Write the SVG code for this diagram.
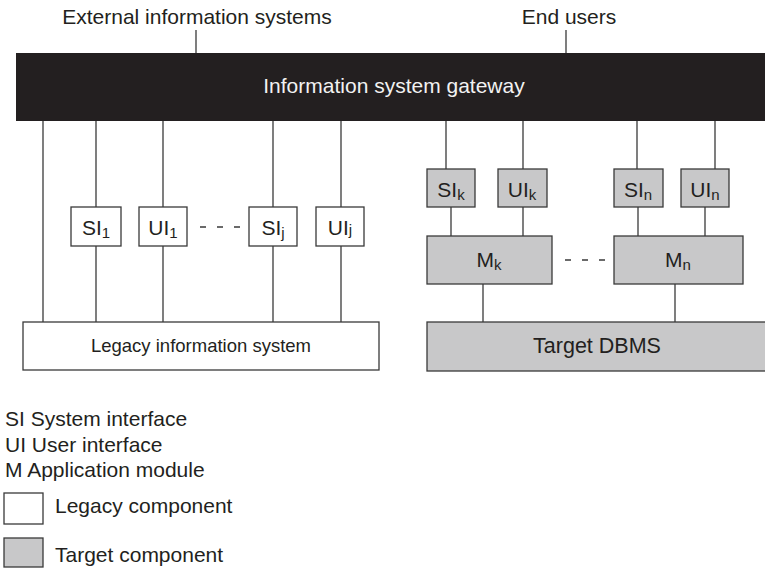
<svg xmlns="http://www.w3.org/2000/svg" width="765" height="568" viewBox="0 0 765 568">
<style>
text{font-family:"Liberation Sans",Arial,sans-serif;fill:#231f20}
.t{font-size:21px}
.b{font-size:21px;text-anchor:middle}
.s{font-size:15px}
.leg{fill:#fff;stroke:#3a3a3a;stroke-width:1.3}
.tgt{fill:#c8c8c9;stroke:#3a3a3a;stroke-width:1.3}
.c line{stroke:#3a3a3a;stroke-width:1.3}
</style>
<g class="c" id="connectors">
<line x1="196" y1="30" x2="196" y2="53"/>
<line x1="566" y1="30" x2="566" y2="53"/>
<line x1="43" y1="121" x2="43" y2="322"/>
<line x1="96" y1="121" x2="96" y2="207"/><line x1="96" y1="246" x2="96" y2="322"/>
<line x1="163" y1="121" x2="163" y2="207"/><line x1="163" y1="246" x2="163" y2="322"/>
<line x1="273" y1="121" x2="273" y2="207"/><line x1="273" y1="246" x2="273" y2="322"/>
<line x1="341" y1="121" x2="341" y2="207"/><line x1="341" y1="246" x2="341" y2="322"/>
<line x1="446" y1="121" x2="446" y2="169"/><line x1="451" y1="207" x2="451" y2="236"/>
<line x1="523" y1="121" x2="523" y2="169"/><line x1="523" y1="207" x2="523" y2="236"/>
<line x1="637" y1="121" x2="637" y2="169"/><line x1="638" y1="207" x2="638" y2="236"/>
<line x1="715" y1="121" x2="715" y2="169"/><line x1="705" y1="207" x2="705" y2="236"/>
<line x1="483" y1="284" x2="483" y2="322"/>
<line x1="675" y1="284" x2="675" y2="322"/>
<line x1="200" y1="227" x2="240" y2="227" stroke-dasharray="6 11"/>
<line x1="565" y1="260" x2="605" y2="260" stroke-dasharray="6 11"/>
</g>
<g id="ext"><text class="t" x="197" y="24" text-anchor="middle">External information systems</text></g>
<g id="users"><text class="t" x="569" y="24" text-anchor="middle">End users</text></g>
<g id="gateway"><rect x="16" y="53" width="760" height="68" fill="#231f20"/><text class="t" x="394" y="93" text-anchor="middle" style="fill:#f2f2f2">Information system gateway</text></g>
<g id="si1"><rect class="leg" x="71" y="207" width="50" height="39"/><text class="b" x="96" y="235">SI<tspan class="s" dy="3">1</tspan></text></g>
<g id="ui1"><rect class="leg" x="139" y="207" width="48" height="39"/><text class="b" x="163" y="235">UI<tspan class="s" dy="3">1</tspan></text></g>
<g id="sij"><rect class="leg" x="249" y="207" width="48" height="39"/><text class="b" x="273" y="235">SI<tspan class="s" dy="3">j</tspan></text></g>
<g id="uij"><rect class="leg" x="316" y="207" width="48" height="39"/><text class="b" x="340" y="235">UI<tspan class="s">j</tspan></text></g>
<g id="legacy"><rect class="leg" x="23" y="322" width="356" height="48"/><text x="201" y="352" font-size="18.5" text-anchor="middle">Legacy information system</text></g>
<g id="sik"><rect class="tgt" x="427" y="169" width="48" height="38"/><text class="b" x="451" y="197">SI<tspan class="s" dy="3">k</tspan></text></g>
<g id="uik"><rect class="tgt" x="498" y="169" width="49" height="38"/><text class="b" x="522" y="197">UI<tspan class="s" dy="3">k</tspan></text></g>
<g id="sin"><rect class="tgt" x="614" y="169" width="49" height="38"/><text class="b" x="638" y="197">SI<tspan class="s" dy="3">n</tspan></text></g>
<g id="uin"><rect class="tgt" x="681" y="169" width="48" height="38"/><text class="b" x="705" y="197">UI<tspan class="s" dy="3">n</tspan></text></g>
<g id="mk"><rect class="tgt" x="427" y="236" width="125" height="48"/><text class="b" x="489" y="267">M<tspan class="s" dy="3">k</tspan></text></g>
<g id="mn"><rect class="tgt" x="614" y="236" width="129" height="48"/><text class="b" x="678" y="267">M<tspan class="s" dy="3">n</tspan></text></g>
<g id="dbms"><rect class="tgt" x="427" y="322" width="345" height="49"/><text x="597" y="353" font-size="21.5" text-anchor="middle">Target DBMS</text></g>
<g id="legend">
<text class="t" x="5" y="426">SI System interface</text>
<text class="t" x="5" y="452">UI User interface</text>
<text class="t" x="5" y="477">M Application module</text>
<rect class="leg" x="4" y="493" width="39" height="31"/>
<text class="t" x="55" y="513">Legacy component</text>
<rect class="tgt" x="4" y="538" width="39" height="29"/>
<text class="t" x="55" y="562">Target component</text>
</g>
</svg>
